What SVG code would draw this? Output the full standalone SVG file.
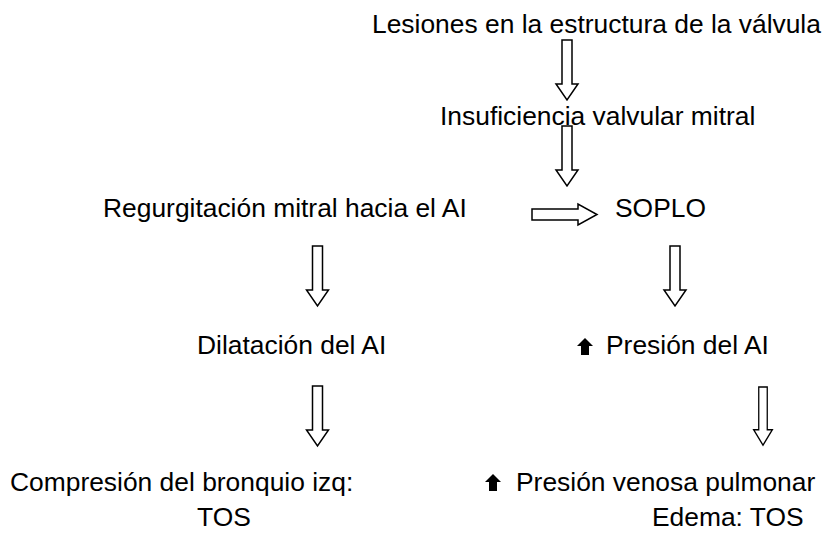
<svg xmlns="http://www.w3.org/2000/svg" width="827" height="541" viewBox="0 0 827 541">
<style>
.t{font-family:"Liberation Sans",Arial,sans-serif;font-size:26.4px;fill:#000}
.a{fill:#fff;stroke:#000;stroke-width:1.5;stroke-linejoin:miter}
.up{fill:#000}
</style>
<defs>
<path id="down" d="M-5,0 H5 V44 H11 L0,60 L-11,44 H-5 Z"/>
<path id="uparrow" d="M8,0 L16,8 H12 V17 H4 V8 H0 Z"/>
</defs>
<rect width="827" height="541" fill="#fff"/>
<g id="connectors">
<use href="#down" class="a" transform="translate(567,40)"/>
<use href="#down" class="a" transform="translate(567,126)"/>
<path class="a" d="M532,209 H578 V204 L597,214.5 L578,225 V220 H532 Z"/>
<use href="#down" class="a" transform="translate(317.5,246)"/>
<use href="#down" class="a" transform="translate(675,246)"/>
<use href="#down" class="a" transform="translate(317.5,386)"/>
<use href="#down" class="a" transform="translate(763,387) scale(0.85,0.97)"/>
</g>
<g id="n1"><text class="t" x="372" y="33">Lesiones en la estructura de la válvula</text></g>
<g id="n2"><text class="t" x="440" y="125">Insuficiencia valvular mitral</text></g>
<g id="n3"><text class="t" x="103" y="217">Regurgitación mitral hacia el AI</text></g>
<g id="n4"><text class="t" x="615" y="217">SOPLO</text></g>
<g id="n5"><text class="t" x="197" y="354">Dilatación del AI</text></g>
<g id="n6"><use href="#uparrow" class="up" x="577" y="338"/><text class="t" x="606" y="354">Presión del AI</text></g>
<g id="n7"><text class="t" x="10" y="491">Compresión del bronquio izq:</text><text class="t" x="197" y="526">TOS</text></g>
<g id="n8"><use href="#uparrow" class="up" x="485" y="474"/><text class="t" x="516" y="491">Presión venosa pulmonar</text><text class="t" x="652" y="526">Edema: TOS</text></g>
</svg>
